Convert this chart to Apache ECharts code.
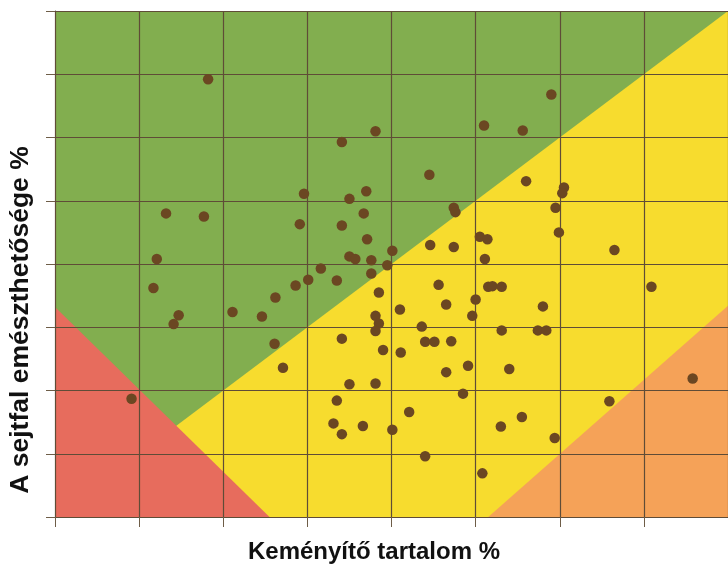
<!DOCTYPE html>
<html>
<head>
<meta charset="utf-8">
<script src="https://cdn.jsdelivr.net/npm/echarts@6/dist/echarts.min.js"></script>
<style>html,body{margin:0;padding:0;background:#fff;}#c{width:728px;height:569px;}</style>
</head>
<body>
<div id="c"></div>
<script>
// Axis ranges (no tick labels shown in the reference)
const xMin = 0, xMax = 80, xStep = 10;
const yMin = 0, yMax = 80, yStep = 10;

// Background zones (data coordinates)
const zoneGreen  = [[0,0],[0,80],[80,80],[80,0]];
const zoneYellow = [[0,0],[80,80],[80,0]];
const zoneRed    = [[0,0],[0,33.2],[25.5,0]];
const zoneOrange = [[51.5,0],[80,0],[80,33.4]];

// Starch content %
const starch = [18.2,13.2,17.7,12.1,38.1,34.1,51.0,44.5,29.6,37.0,35.0,36.7,29.1,34.1,47.4,47.6,
  37.1,44.6,47.4,50.5,51.4,51.1,40.1,35.0,35.7,37.6,39.5,59.0,55.6,56.0,60.5,60.3,59.5,59.9,66.5,
  11.7,14.7,14.1,21.1,24.6,26.2,26.1,9.1,31.6,30.1,28.6,33.5,37.6,38.5,41.0,38.1,38.5,38.1,34.1,
  39.0,41.1,27.1,35.0,38.1,33.5,33.1,34.1,36.6,40.1,42.1,44.0,45.6,46.5,43.6,44.0,45.1,47.1,46.5,
  49.1,48.5,50.0,49.6,51.5,52.0,53.1,53.0,50.8,53.1,58.0,57.4,58.4,54.0,55.5,59.4,65.9,70.9,75.8];
// Cell wall digestibility %
const digest = [69.2,48.0,47.5,40.8,61.0,59.3,61.9,54.1,51.1,51.5,50.3,48.0,46.3,46.1,48.9,48.2,
  43.9,43.0,42.7,44.3,43.9,40.8,42.1,41.2,40.8,40.6,39.8,66.8,61.1,53.1,52.1,51.2,48.9,45.0,42.2,
  36.2,31.9,30.5,32.4,31.7,34.7,27.4,18.7,39.3,37.5,36.6,37.4,38.5,35.5,32.8,31.8,30.6,29.4,28.2,
  26.4,26.0,23.6,21.0,21.1,18.4,14.8,13.1,14.4,13.8,16.6,9.6,36.7,33.6,30.1,27.7,27.7,27.8,22.9,
  23.9,19.5,34.4,31.8,36.4,36.5,36.4,14.3,6.9,29.5,33.3,29.5,29.5,23.4,15.8,12.5,18.3,36.4,21.9];

const xName = 'Keményítő tartalom %';
const yName = 'A sejtfal emészthetősége %';

const zones = [
  {poly: zoneGreen,  color: '#82AE4F'},
  {poly: zoneYellow, color: '#F7DC2E'},
  {poly: zoneRed,    color: '#E76C5D'},
  {poly: zoneOrange, color: '#F5A258'}
];

const chart = echarts.init(document.getElementById('c'), null, {renderer: 'canvas'});
const lineColor = '#5F4C37';
chart.setOption({
  animation: false,
  grid: {left: 55, top: 11, width: 675, height: 506, containLabel: false},
  xAxis: {
    type: 'value', min: xMin, max: xMax, interval: xStep,
    axisLine: {show: true, onZero: false, lineStyle: {color: lineColor, width: 1}},
    axisTick: {show: true, length: 10, lineStyle: {color: '#6E5D48', width: 1}},
    axisLabel: {show: false},
    splitLine: {show: true, lineStyle: {color: lineColor, width: 1.2}}
  },
  yAxis: {
    type: 'value', min: yMin, max: yMax, interval: yStep,
    axisLine: {show: true, onZero: false, lineStyle: {color: lineColor, width: 1}},
    axisTick: {show: true, length: 9, lineStyle: {color: '#6E5D48', width: 1}},
    axisLabel: {show: false},
    splitLine: {show: true, lineStyle: {color: lineColor, width: 1.2}}
  },
  graphic: [
    {type: 'text', x: 374, y: 552, style: {text: xName, font: 'bold 24px "Liberation Sans", Arial, sans-serif', fill: '#111', align: 'center', verticalAlign: 'middle'}},
    {type: 'text', x: 21, y: 320, rotation: Math.PI / 2, style: {text: yName, font: 'bold 26.5px "Liberation Sans", Arial, sans-serif', fill: '#111', align: 'center', verticalAlign: 'middle'}}
  ],
  series: [
    {
      type: 'custom',
      z: -1,
      silent: true,
      clip: true,
      data: zones.map((z, i) => i),
      renderItem: function (params, api) {
        const z = zones[params.dataIndex];
        const pts = z.poly.map(p => api.coord(p));
        return {type: 'polygon', shape: {points: pts}, style: {fill: z.color, stroke: null}};
      }
    },
    {
      type: 'scatter',
      z: 3,
      symbol: 'circle',
      symbolSize: 10.5,
      itemStyle: {color: '#6B4722', opacity: 1},
      data: starch.map((x, i) => [x, digest[i]])
    }
  ]
});
</script>
</body>
</html>
